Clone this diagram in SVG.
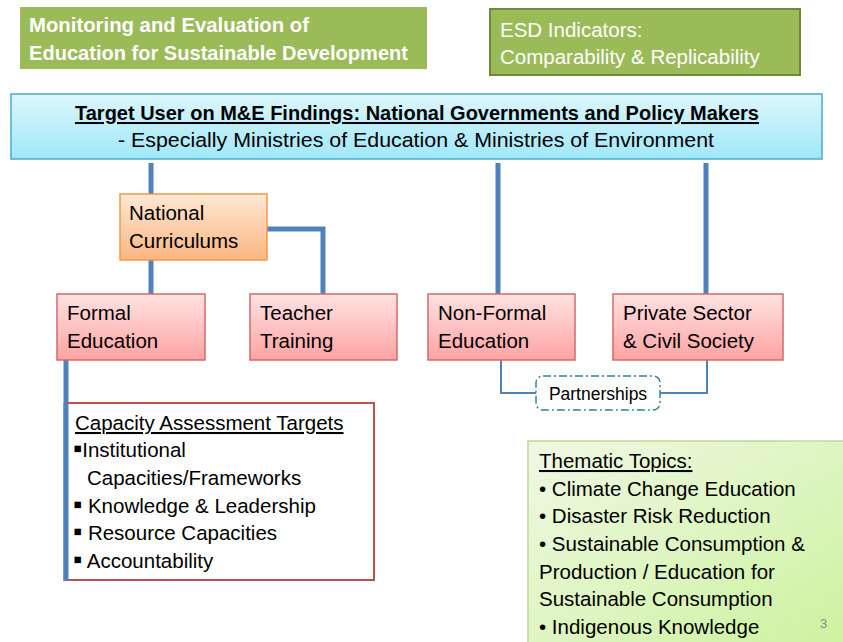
<svg xmlns="http://www.w3.org/2000/svg" width="843" height="642" viewBox="0 0 843 642">
<style>
text{font-family:"Liberation Sans",Arial,sans-serif;fill:#000}
.t{font-size:20.5px}
.w{fill:#fff}
.b{font-weight:bold}
.u{text-decoration:underline}
.sq{font-size:26px}
.red{stroke:#D46A6A;stroke-width:1.5}
.conn{stroke:#4F81BD;stroke-width:5;fill:none}
.thin{stroke:#4F81BD;stroke-width:2;fill:none}
</style>
<defs>
<linearGradient id="gCyan" x1="0" y1="0" x2="0" y2="1"><stop offset="0" stop-color="#DDF6FC"/><stop offset="1" stop-color="#A0E8FA"/></linearGradient>
<linearGradient id="gOr" x1="0" y1="0" x2="0" y2="1"><stop offset="0" stop-color="#FFE8D4"/><stop offset="1" stop-color="#FBB681"/></linearGradient>
<linearGradient id="gPk" x1="0" y1="0" x2="0" y2="1"><stop offset="0" stop-color="#FFE2E2"/><stop offset="1" stop-color="#FFA3A3"/></linearGradient>
<linearGradient id="gGr" x1="0" y1="0" x2="1" y2="1"><stop offset="0" stop-color="#F0F8E4"/><stop offset="1" stop-color="#CCF29E"/></linearGradient>
</defs>

<g id="connectors">
<line class="conn" x1="151" y1="163" x2="151" y2="194"/>
<line class="conn" x1="151" y1="260" x2="151" y2="294"/>
<polyline class="conn" points="267,229 323,229 323,294"/>
<line class="conn" x1="498" y1="163" x2="498" y2="294"/>
<line class="conn" x1="706" y1="163" x2="706" y2="294"/>
<line class="conn" x1="66" y1="356" x2="66" y2="581"/>
<polyline class="thin" points="501,360 501,393 537,393"/>
<polyline class="thin" points="707,360 707,393 660,393"/>
</g>

<g id="title">
<rect x="20" y="7" width="407" height="62" fill="#9BBB59"/>
<text class="t w b" x="29" y="32" textLength="280" lengthAdjust="spacingAndGlyphs">Monitoring and Evaluation of</text>
<text class="t w b" x="29" y="60" textLength="379" lengthAdjust="spacingAndGlyphs">Education for Sustainable Development</text>
</g>

<g id="esd">
<rect x="490" y="9" width="310" height="66" fill="#9BBB59" stroke="#71893F" stroke-width="2"/>
<text class="t w" x="500" y="37">ESD Indicators:</text>
<text class="t w" x="500" y="64">Comparability &amp; Replicability</text>
</g>

<g id="target">
<rect x="11" y="94" width="811" height="65" fill="url(#gCyan)" stroke="#4BACC6" stroke-width="1.5"/>
<text class="t b u" x="417" y="120" text-anchor="middle" textLength="684" lengthAdjust="spacingAndGlyphs">Target User on M&amp;E Findings: National Governments and Policy Makers</text>
<text class="t" x="416" y="147" text-anchor="middle" textLength="596" lengthAdjust="spacingAndGlyphs">- Especially Ministries of Education &amp; Ministries of Environment</text>
</g>

<g id="national">
<rect x="120" y="194" width="147" height="66" fill="url(#gOr)" stroke="#F79646" stroke-width="1.5"/>
<text class="t" x="129" y="220">National</text>
<text class="t" x="129" y="248">Curriculums</text>
</g>

<g id="formal">
<rect x="57" y="294" width="148" height="66" fill="url(#gPk)" class="red"/>
<text class="t" x="67" y="320">Formal</text>
<text class="t" x="67" y="348">Education</text>
</g>

<g id="teacher">
<rect x="250" y="294" width="147" height="66" fill="url(#gPk)" class="red"/>
<text class="t" x="260" y="320">Teacher</text>
<text class="t" x="260" y="348">Training</text>
</g>

<g id="nonformal">
<rect x="428" y="294" width="147" height="66" fill="url(#gPk)" class="red"/>
<text class="t" x="438" y="320">Non-Formal</text>
<text class="t" x="438" y="348">Education</text>
</g>

<g id="private">
<rect x="613" y="294" width="170" height="66" fill="url(#gPk)" class="red"/>
<text class="t" x="623" y="320">Private Sector</text>
<text class="t" x="623" y="348">&amp; Civil Society</text>
</g>

<g id="partnerships">
<rect x="536" y="376" width="124" height="34" rx="7" fill="#fff" stroke="#31849B" stroke-width="1.5" stroke-dasharray="8,3,2,3"/>
<text x="598" y="400" text-anchor="middle" font-size="17.5">Partnerships</text>
</g>

<g id="capacity">
<rect x="67" y="403" width="307" height="177" fill="#fff" stroke="#C0504D" stroke-width="2"/>
<line class="conn" x1="66" y1="403" x2="66" y2="581"/>
<text class="t u" x="75" y="430">Capacity Assessment Targets</text>
<text class="t" x="73" y="457"><tspan class="sq">▪</tspan>Institutional</text>
<text class="t" x="87" y="485">Capacities/Frameworks</text>
<text class="t" x="73" y="513"><tspan class="sq">▪</tspan> Knowledge &amp; Leadership</text>
<text class="t" x="73" y="540"><tspan class="sq">▪</tspan> Resource Capacities</text>
<text class="t" x="73" y="568"><tspan class="sq">▪</tspan> Accountability</text>
</g>

<g id="thematic">
<rect x="528" y="441" width="320" height="206" fill="url(#gGr)" stroke="#C3D69B" stroke-width="1.5"/>
<text class="t u" x="539" y="468">Thematic Topics:</text>
<text class="t" x="539" y="496">• Climate Change Education</text>
<text class="t" x="539" y="523">• Disaster Risk Reduction</text>
<text class="t" x="539" y="551">• Sustainable Consumption &amp;</text>
<text class="t" x="539" y="579">Production / Education for</text>
<text class="t" x="539" y="606">Sustainable Consumption</text>
<text class="t" x="539" y="634">• Indigenous Knowledge</text>
<text x="820" y="628" font-size="13" style="fill:#8C8C8C">3</text>
</g>
</svg>
